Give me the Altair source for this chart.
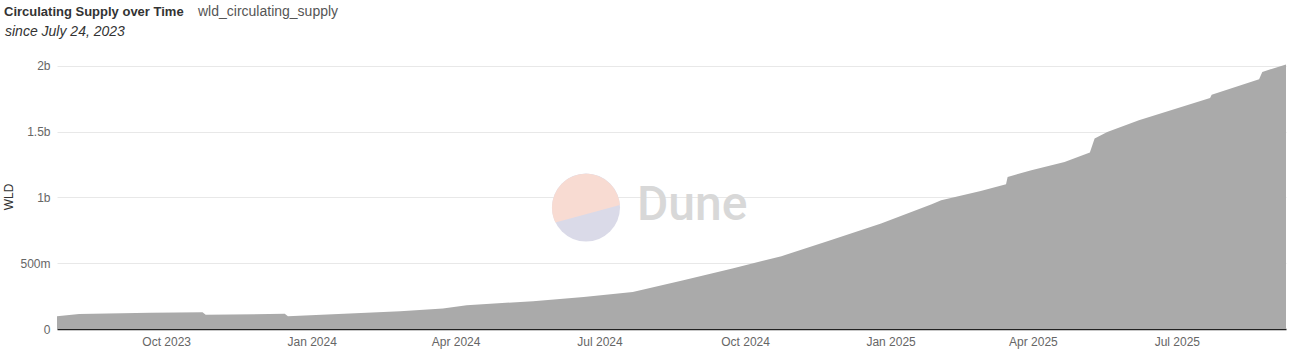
import altair as alt
import pandas as pd

# ---- data ----
dates = [
    "2023-07-24", "2023-08-07", "2023-09-21", "2023-10-24", "2023-10-26",
    "2023-12-15", "2023-12-17", "2024-02-26", "2024-03-24", "2024-04-08",
    "2024-05-20", "2024-06-21", "2024-07-22", "2024-08-23", "2024-09-23",
    "2024-10-24", "2024-11-24", "2024-12-26", "2025-01-27", "2025-02-02",
    "2025-02-27", "2025-03-15", "2025-03-16", "2025-03-31", "2025-04-21",
    "2025-05-07", "2025-05-10", "2025-05-18", "2025-06-07", "2025-07-22",
    "2025-07-23", "2025-08-22", "2025-08-24", "2025-09-08",
]
supply_millions = [
    97, 114, 123, 127, 108,
    115, 97, 135, 156, 181,
    211, 244, 282, 371, 460,
    553, 675, 801, 948, 978,
    1049, 1100, 1155, 1206, 1269,
    1340, 1447, 1497, 1586, 1755,
    1780, 1897, 1953, 2010,
]
y_ticks = [0, 500e6, 1e9, 1.5e9, 2e9]
title_text = ["Circulating Supply over Time"]
series_text = ["wld_circulating_supply"]
subtitle_text = ["since July 24, 2023"]
y_title = "WLD"
watermark_text = ["Dune"]

df = pd.DataFrame({
    "date": pd.to_datetime(dates),
    "supply": [v * 1e6 for v in supply_millions],
})

W, H = 1229, 265
PAD_L, PAD_T = 57, 64
FONT = "Liberation Sans"

x_ticks = [alt.DateTime(year=y, month=m, date=1) for (y, m) in
           [(2023, 10), (2024, 1), (2024, 4), (2024, 7), (2024, 10),
            (2025, 1), (2025, 4), (2025, 7)]]

area = alt.Chart(df).mark_area(color="#aaaaaa", interpolate="linear").encode(
    x=alt.X("date:T",
            scale=alt.Scale(domain=[alt.DateTime(year=2023, month=7, date=24),
                                    alt.DateTime(year=2025, month=9, date=8)]),
            axis=alt.Axis(values=x_ticks, format="%b %Y", title=None, grid=False,
                          ticks=False, domain=True, domainColor="#222222",
                          domainWidth=1.5, labelFont=FONT, labelFontSize=12,
                          labelColor="#666666", labelPadding=7, labelFlush=False)),
    y=alt.Y("supply:Q",
            scale=alt.Scale(domain=[0, 2.013e9], nice=False),
            axis=alt.Axis(values=y_ticks, title=y_title, grid=True,
                          gridColor="#e8e8e8", ticks=False, domain=False,
                          labelFont=FONT, labelFontSize=12, labelColor="#666666",
                          labelPadding=7, titleFont=FONT, titleFontSize=12,
                          titleFontWeight="normal", titleColor="#333333",
                          titlePadding=4,
                          labelExpr="datum.value == 0 ? '0' : datum.value >= 1e9 ? format(datum.value/1e9, '~g') + 'b' : format(datum.value/1e6, '~g') + 'm'")),
)

# watermark
wm_circle = alt.Chart(pd.DataFrame({"k": [0]})).mark_point(
    shape="circle", filled=True, size=4624, color="#dadae8", opacity=1, strokeWidth=0
).encode(x=alt.value(529), y=alt.value(143.5))
wm_top = alt.Chart(pd.DataFrame({"k": [0]})).mark_point(
    shape="M -0.90 0.44 A 1 1 0 1 1 0.997 -0.074 Z", filled=True, size=4624,
    color="#f8dbd2", opacity=1, strokeWidth=0
).encode(x=alt.value(529), y=alt.value(143.5))
wm_text = alt.Chart(pd.DataFrame({"t": watermark_text})).mark_text(
    font="Roboto", fontSize=48, fontWeight=500, color="#d8d8d8",
    align="left", baseline="alphabetic"
).encode(text="t:N", x=alt.value(580), y=alt.value(156))

t1 = alt.Chart(pd.DataFrame({"t": title_text})).mark_text(
    font=FONT, fontSize=13, fontWeight="bold", color="#333333",
    align="left", baseline="alphabetic"
).encode(text="t:N", x=alt.value(4 - PAD_L), y=alt.value(16 - PAD_T))
t2 = alt.Chart(pd.DataFrame({"t": series_text})).mark_text(
    font=FONT, fontSize=14, color="#555555", align="left", baseline="alphabetic"
).encode(text="t:N", x=alt.value(198 - PAD_L), y=alt.value(16 - PAD_T))
t3 = alt.Chart(pd.DataFrame({"t": subtitle_text})).mark_text(
    font=FONT, fontSize=14, fontStyle="italic", color="#333333",
    align="left", baseline="alphabetic"
).encode(text="t:N", x=alt.value(5 - PAD_L), y=alt.value(36 - PAD_T))

chart = alt.layer(wm_circle, wm_top, wm_text, area, t1, t2, t3).properties(
    width=W, height=H,
    autosize=alt.AutoSizeParams(type="none"),
    padding={"left": PAD_L, "top": PAD_T, "right": 8, "bottom": 24},
    background="white",
).configure_view(stroke=None)

chart.save("out.html", embed_options={"renderer": "svg", "actions": False})
